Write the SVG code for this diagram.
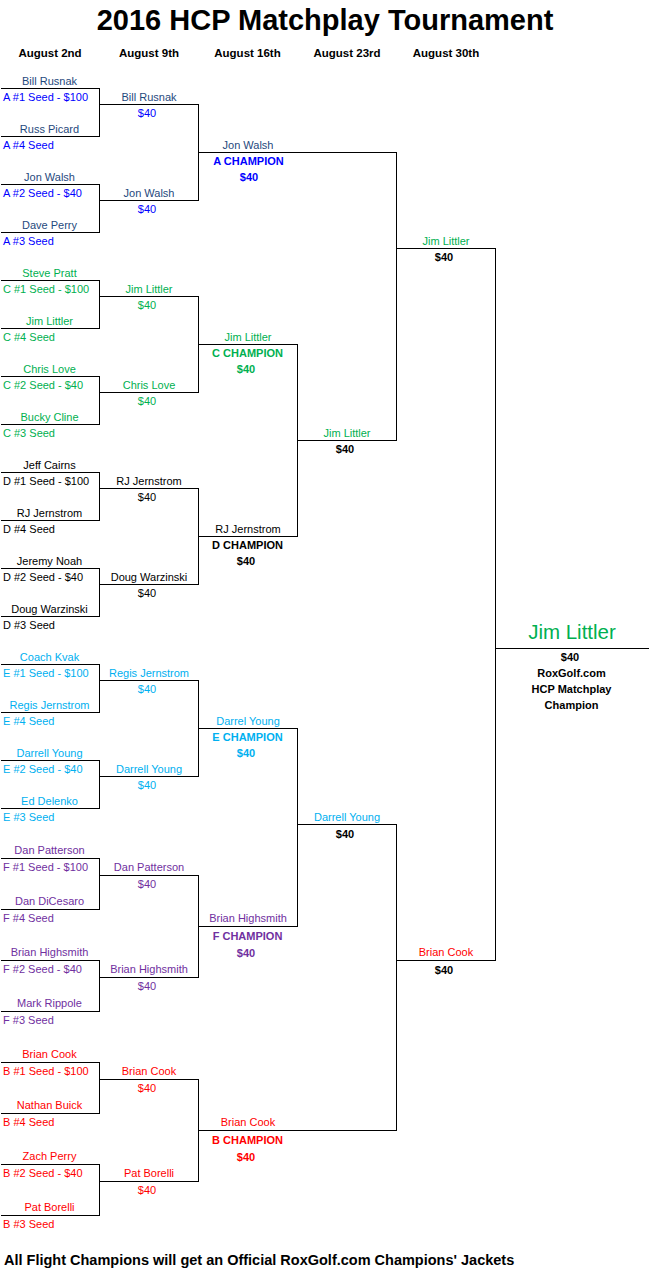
<svg xmlns="http://www.w3.org/2000/svg" width="649" height="1287" viewBox="0 0 649 1287">
<style>
text{font-family:"Liberation Sans",Arial,sans-serif;font-size:11px}
.c{text-anchor:middle}
.b{font-weight:bold}
.hd{font-weight:bold;font-size:11.5px;text-anchor:middle;fill:#000}
.an{fill:#1F497D}.as{fill:#0000FF}
.cn,.cs{fill:#00B050}
.dn,.ds{fill:#000}
.en,.es{fill:#00B0F0}
.fn,.fs{fill:#7030A0}
.bn,.bs{fill:#FF0000}
.k{fill:#000}
.ln{fill:none;stroke:#000;stroke-width:1}
</style>
<rect width="649" height="1287" fill="#fff"/>
<g id="title"><text x="325" y="29.5" class="c b" style="font-size:29px">2016 HCP Matchplay Tournament</text></g>
<g id="headers">
<text x="50" y="57" class="hd">August 2nd</text>
<text x="149" y="57" class="hd">August 9th</text>
<text x="247.5" y="57" class="hd">August 16th</text>
<text x="347" y="57" class="hd">August 23rd</text>
<text x="446" y="57" class="hd">August 30th</text>
</g>
<g id="connectors" class="ln" transform="translate(0.5,0.5)" shape-rendering="crispEdges">
<path d="M0,88H99V136H0M0,184H99V232H0M99,104H198V200H99"/>
<path d="M0,280H99V328H0M0,376H99V424H0M99,296H198V392H99"/>
<path d="M0,472H99V520H0M0,568H99V616H0M99,488H198V584H99"/>
<path d="M0,664H99V712H0M0,760H99V808H0M99,680H198V776H99"/>
<path d="M0,858H99V909H0M0,960H99V1011H0M99,875H198V977H99"/>
<path d="M0,1062H99V1113H0M0,1164H99V1215H0M99,1079H198V1181H99"/>
<path d="M198,344H297V536H198"/>
<path d="M198,152H396V440H297"/>
<path d="M198,728H297V926H198"/>
<path d="M297,824H396V1130H198"/>
<path d="M396,248H495V960H396"/>
<path d="M495,648H649"/>
</g>
<!-- Flight A -->
<g id="a-m1"><text x="49.5" y="85" class="c an">Bill Rusnak</text><text x="3" y="101" class="as">A #1 Seed - $100</text><text x="49.5" y="133" class="c an">Russ Picard</text><text x="3" y="149" class="as">A #4 Seed</text></g>
<g id="a-m2"><text x="49.5" y="181" class="c an">Jon Walsh</text><text x="3" y="197" class="as">A #2 Seed - $40</text><text x="49.5" y="229" class="c an">Dave Perry</text><text x="3" y="245" class="as">A #3 Seed</text></g>
<g id="a-r2"><text x="149" y="101" class="c an">Bill Rusnak</text><text x="147" y="117" class="c as">$40</text><text x="149" y="197" class="c an">Jon Walsh</text><text x="147" y="213" class="c as">$40</text></g>
<g id="a-champ"><text x="248" y="149" class="c an">Jon Walsh</text><text x="248.5" y="165" class="c b as">A CHAMPION</text><text x="249" y="181" class="c b as">$40</text></g>
<!-- Flight C -->
<g id="c-m1"><text x="49.5" y="277" class="c cn">Steve Pratt</text><text x="3" y="293" class="cs">C #1 Seed - $100</text><text x="49.5" y="325" class="c cn">Jim Littler</text><text x="3" y="341" class="cs">C #4 Seed</text></g>
<g id="c-m2"><text x="49.5" y="373" class="c cn">Chris Love</text><text x="3" y="389" class="cs">C #2 Seed - $40</text><text x="49.5" y="421" class="c cn">Bucky Cline</text><text x="3" y="437" class="cs">C #3 Seed</text></g>
<g id="c-r2"><text x="149" y="293" class="c cn">Jim Littler</text><text x="147" y="309" class="c cs">$40</text><text x="149" y="389" class="c cn">Chris Love</text><text x="147" y="405" class="c cs">$40</text></g>
<g id="c-champ"><text x="248" y="341" class="c cn">Jim Littler</text><text x="247.5" y="357" class="c b cs">C CHAMPION</text><text x="246" y="373" class="c b cs">$40</text></g>
<!-- Flight D -->
<g id="d-m1"><text x="49.5" y="469" class="c dn">Jeff Cairns</text><text x="3" y="485" class="ds">D #1 Seed - $100</text><text x="49.5" y="517" class="c dn">RJ Jernstrom</text><text x="3" y="533" class="ds">D #4 Seed</text></g>
<g id="d-m2"><text x="49.5" y="565" class="c dn">Jeremy Noah</text><text x="3" y="581" class="ds">D #2 Seed - $40</text><text x="49.5" y="613" class="c dn">Doug Warzinski</text><text x="3" y="629" class="ds">D #3 Seed</text></g>
<g id="d-r2"><text x="149" y="485" class="c dn">RJ Jernstrom</text><text x="147" y="501" class="c ds">$40</text><text x="149" y="581" class="c dn">Doug Warzinski</text><text x="147" y="597" class="c ds">$40</text></g>
<g id="d-champ"><text x="248" y="533" class="c dn">RJ Jernstrom</text><text x="247.5" y="549" class="c b ds">D CHAMPION</text><text x="246" y="565" class="c b ds">$40</text></g>
<!-- Flight E -->
<g id="e-m1"><text x="49.5" y="661" class="c en">Coach Kvak</text><text x="3" y="677" class="es">E #1 Seed - $100</text><text x="49.5" y="709" class="c en">Regis Jernstrom</text><text x="3" y="725" class="es">E #4 Seed</text></g>
<g id="e-m2"><text x="49.5" y="757" class="c en">Darrell Young</text><text x="3" y="773" class="es">E #2 Seed - $40</text><text x="49.5" y="805" class="c en">Ed Delenko</text><text x="3" y="821" class="es">E #3 Seed</text></g>
<g id="e-r2"><text x="149" y="677" class="c en">Regis Jernstrom</text><text x="147" y="693" class="c es">$40</text><text x="149" y="773" class="c en">Darrell Young</text><text x="147" y="789" class="c es">$40</text></g>
<g id="e-champ"><text x="248" y="725" class="c en">Darrel Young</text><text x="247.5" y="741" class="c b es">E CHAMPION</text><text x="246" y="757" class="c b es">$40</text></g>
<!-- Flight F -->
<g id="f-m1"><text x="49.5" y="853.5" class="c fn">Dan Patterson</text><text x="3" y="871" class="fs">F #1 Seed - $100</text><text x="49.5" y="904.5" class="c fn">Dan DiCesaro</text><text x="3" y="922" class="fs">F #4 Seed</text></g>
<g id="f-m2"><text x="49.5" y="955.5" class="c fn">Brian Highsmith</text><text x="3" y="973" class="fs">F #2 Seed - $40</text><text x="49.5" y="1006.5" class="c fn">Mark Rippole</text><text x="3" y="1024" class="fs">F #3 Seed</text></g>
<g id="f-r2"><text x="149" y="871" class="c fn">Dan Patterson</text><text x="147" y="888" class="c fs">$40</text><text x="149" y="973" class="c fn">Brian Highsmith</text><text x="147" y="990" class="c fs">$40</text></g>
<g id="f-champ"><text x="248" y="921.5" class="c fn">Brian Highsmith</text><text x="247.5" y="939.5" class="c b fs">F CHAMPION</text><text x="246" y="956.5" class="c b fs">$40</text></g>
<!-- Flight B -->
<g id="b-m1"><text x="49.5" y="1057.5" class="c bn">Brian Cook</text><text x="3" y="1075" class="bs">B #1 Seed - $100</text><text x="49.5" y="1108.5" class="c bn">Nathan Buick</text><text x="3" y="1126" class="bs">B #4 Seed</text></g>
<g id="b-m2"><text x="49.5" y="1159.5" class="c bn">Zach Perry</text><text x="3" y="1177" class="bs">B #2 Seed - $40</text><text x="49.5" y="1210.5" class="c bn">Pat Borelli</text><text x="3" y="1228" class="bs">B #3 Seed</text></g>
<g id="b-r2"><text x="149" y="1075" class="c bn">Brian Cook</text><text x="147" y="1092" class="c bs">$40</text><text x="149" y="1177" class="c bn">Pat Borelli</text><text x="147" y="1194" class="c bs">$40</text></g>
<g id="b-champ"><text x="248" y="1125.5" class="c bn">Brian Cook</text><text x="247.5" y="1143.5" class="c b bs">B CHAMPION</text><text x="246" y="1160.5" class="c b bs">$40</text></g>
<!-- Round 4 -->
<g id="r4-top"><text x="347" y="436.5" class="c cn">Jim Littler</text><text x="345" y="453" class="c b k">$40</text></g>
<g id="r4-bottom"><text x="347" y="820.5" class="c en">Darrell Young</text><text x="345" y="837.5" class="c b k">$40</text></g>
<!-- Round 5 -->
<g id="r5-top"><text x="446" y="244.5" class="c cn">Jim Littler</text><text x="444" y="261" class="c b k">$40</text></g>
<g id="r5-bottom"><text x="446" y="956" class="c bn">Brian Cook</text><text x="444" y="973.5" class="c b k">$40</text></g>
<!-- Final -->
<g id="champion"><text x="572" y="639" class="c cn" style="font-size:20.5px">Jim Littler</text><text x="570" y="661" class="c b k">$40</text><text x="571.5" y="677" class="c b k">RoxGolf.com</text><text x="571.5" y="693" class="c b k">HCP Matchplay</text><text x="571.5" y="709" class="c b k">Champion</text></g>
<g id="footer"><text x="4" y="1265" class="b k" style="font-size:14.5px">All Flight Champions will get an Official RoxGolf.com Champions' Jackets</text></g>
</svg>
